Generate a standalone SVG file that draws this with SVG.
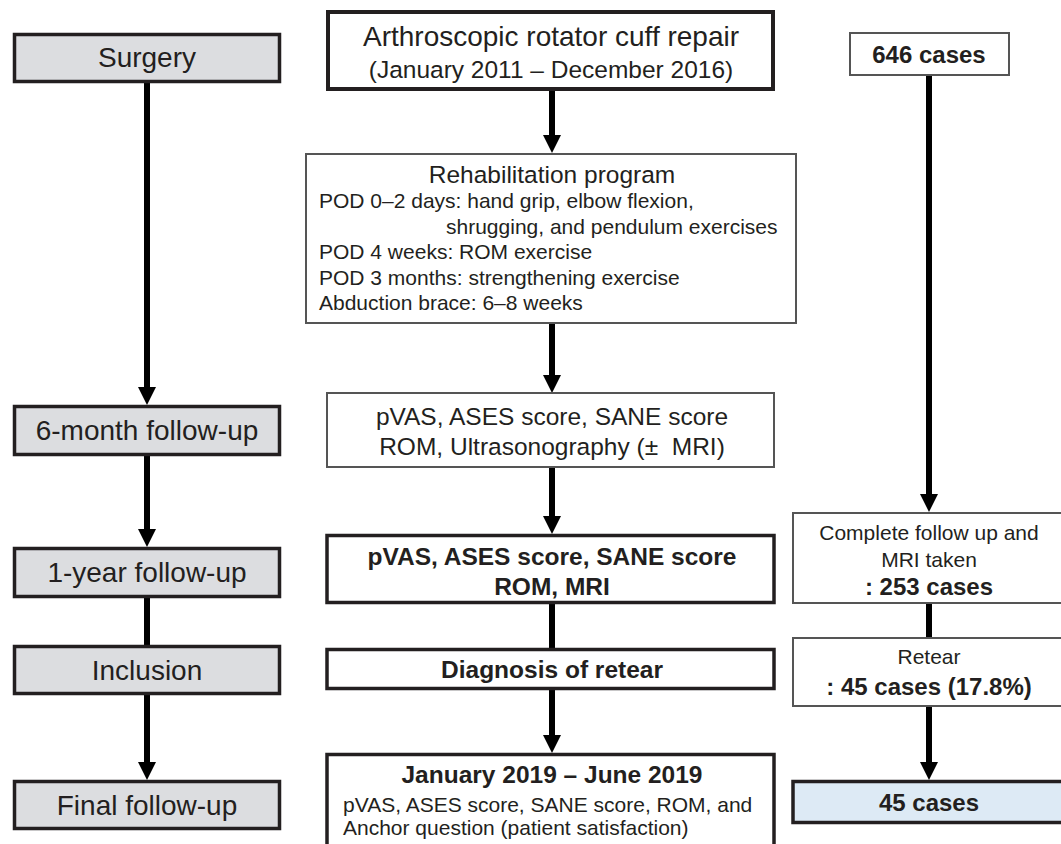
<svg xmlns="http://www.w3.org/2000/svg" width="1061" height="844" viewBox="0 0 1061 844">
<style>
text{font-family:"Liberation Sans",Arial,sans-serif;fill:#231f20}
.lbl{font-size:28px;text-anchor:middle}
.b{font-weight:bold}
.c{text-anchor:middle}
.step{fill:#dcdde0;stroke:#231f20;stroke-width:3.5}
.thick{fill:#fff;stroke:#231f20;stroke-width:3.5}
.thin{fill:#fff;stroke:#555;stroke-width:2}
.blue{fill:#ddeaf5;stroke:#231f20;stroke-width:3.5}
.ln{stroke:#000;stroke-width:6;fill:none}
.arr{marker-end:url(#ah)}
</style>
<defs>
<marker id="ah" markerUnits="userSpaceOnUse" markerWidth="18" markerHeight="18" refX="0" refY="9" orient="auto" viewBox="0 0 18 18">
<path d="M0,0 L18,9 L0,18 z" fill="#000"/>
</marker>
</defs>
<g id="connectors">
<line class="ln arr" x1="147" y1="83" x2="147" y2="387"/>
<line class="ln arr" x1="147" y1="456" x2="147" y2="529"/>
<line class="ln" x1="147" y1="598" x2="147" y2="645"/>
<line class="ln arr" x1="147" y1="695" x2="147" y2="762"/>
<line class="ln arr" x1="552" y1="91" x2="552" y2="135"/>
<line class="ln arr" x1="552" y1="324" x2="552" y2="375"/>
<line class="ln arr" x1="552" y1="468" x2="552" y2="516"/>
<line class="ln" x1="552" y1="604" x2="552" y2="648"/>
<line class="ln arr" x1="552" y1="690" x2="552" y2="735"/>
<line class="ln arr" x1="929" y1="76" x2="929" y2="494"/>
<line class="ln" x1="929" y1="604" x2="929" y2="637"/>
<line class="ln arr" x1="929" y1="706" x2="929" y2="762"/>
</g>
<g id="surgery"><rect class="step" x="14.5" y="34.5" width="265" height="47"/><text class="lbl" x="147" y="67">Surgery</text></g>
<g id="six-month"><rect class="step" x="14.5" y="406.5" width="265" height="48"/><text class="lbl" x="147" y="440">6-month follow-up</text></g>
<g id="one-year"><rect class="step" x="14.5" y="548.5" width="265" height="48"/><text class="lbl" x="147" y="582">1-year follow-up</text></g>
<g id="inclusion"><rect class="step" x="14.5" y="646.5" width="265" height="47"/><text class="lbl" x="147" y="680">Inclusion</text></g>
<g id="final"><rect class="step" x="14.5" y="781.5" width="265" height="47"/><text class="lbl" x="147" y="815">Final follow-up</text></g>
<g id="arthroscopic"><rect class="thick" x="328" y="12" width="445" height="77" style="stroke-width:4"/><text x="551" y="46" class="c" style="font-size:28px">Arthroscopic rotator cuff repair</text><text x="551" y="78" class="c" style="font-size:24.5px">(January 2011 – December 2016)</text></g>
<g id="rehab"><rect class="thin" x="306" y="154" width="490" height="169"/>
<text x="552" y="183" class="c" style="font-size:24.5px">Rehabilitation program</text>
<text x="319" y="208" style="font-size:21px">POD 0–2 days: hand grip, elbow flexion,</text>
<text x="446" y="233.5" style="font-size:21px">shrugging, and pendulum exercises</text>
<text x="319" y="259" style="font-size:21px">POD 4 weeks: ROM exercise</text>
<text x="319" y="284.5" style="font-size:21px">POD 3 months: strengthening exercise</text>
<text x="319" y="310" style="font-size:21px">Abduction brace: 6–8 weeks</text></g>
<g id="eval-6m"><rect class="thin" x="327" y="393" width="447" height="74"/><text x="552" y="425" class="c" style="font-size:24.5px">pVAS, ASES score, SANE score</text><text x="552" y="455" class="c" style="font-size:24.5px" xml:space="preserve">ROM, Ultrasonography (±  MRI)</text></g>
<g id="eval-1y"><rect class="thick" x="327" y="535.5" width="447" height="67"/><text x="552" y="565" class="c b" style="font-size:24.5px">pVAS, ASES score, SANE score</text><text x="552" y="595" class="c b" style="font-size:24.5px">ROM, MRI</text></g>
<g id="diagnosis"><rect class="thick" x="327" y="649.5" width="447" height="39"/><text x="552" y="678" class="c b" style="font-size:24.5px">Diagnosis of retear</text></g>
<g id="final-eval"><rect class="thick" x="327" y="754.5" width="447" height="100"/><text x="552" y="783" class="c b" style="font-size:24.5px">January 2019 – June 2019</text><text x="343" y="812" style="font-size:21px">pVAS, ASES score, SANE score, ROM, and</text><text x="343" y="835" style="font-size:21px">Anchor question (patient satisfaction)</text></g>
<g id="cases-646"><rect class="thin" x="850" y="33" width="159" height="42"/><text x="929" y="63" class="c b" style="font-size:24px">646 cases</text></g>
<g id="cases-253"><rect class="thin" x="793" y="513" width="280" height="90"/><text x="929" y="540" class="c" style="font-size:21px">Complete follow up and</text><text x="929" y="567" class="c" style="font-size:21px">MRI taken</text><text x="929" y="595" class="c b" style="font-size:24px">: 253 cases</text></g>
<g id="cases-retear"><rect class="thin" x="793" y="638" width="280" height="68"/><text x="929" y="664" class="c" style="font-size:21px">Retear</text><text x="929" y="695" class="c b" style="font-size:24px">: 45 cases (17.8%)</text></g>
<g id="cases-45"><rect class="blue" x="793" y="781.5" width="280" height="41"/><text x="929" y="811" class="c b" style="font-size:24px">45 cases</text></g>
</svg>
